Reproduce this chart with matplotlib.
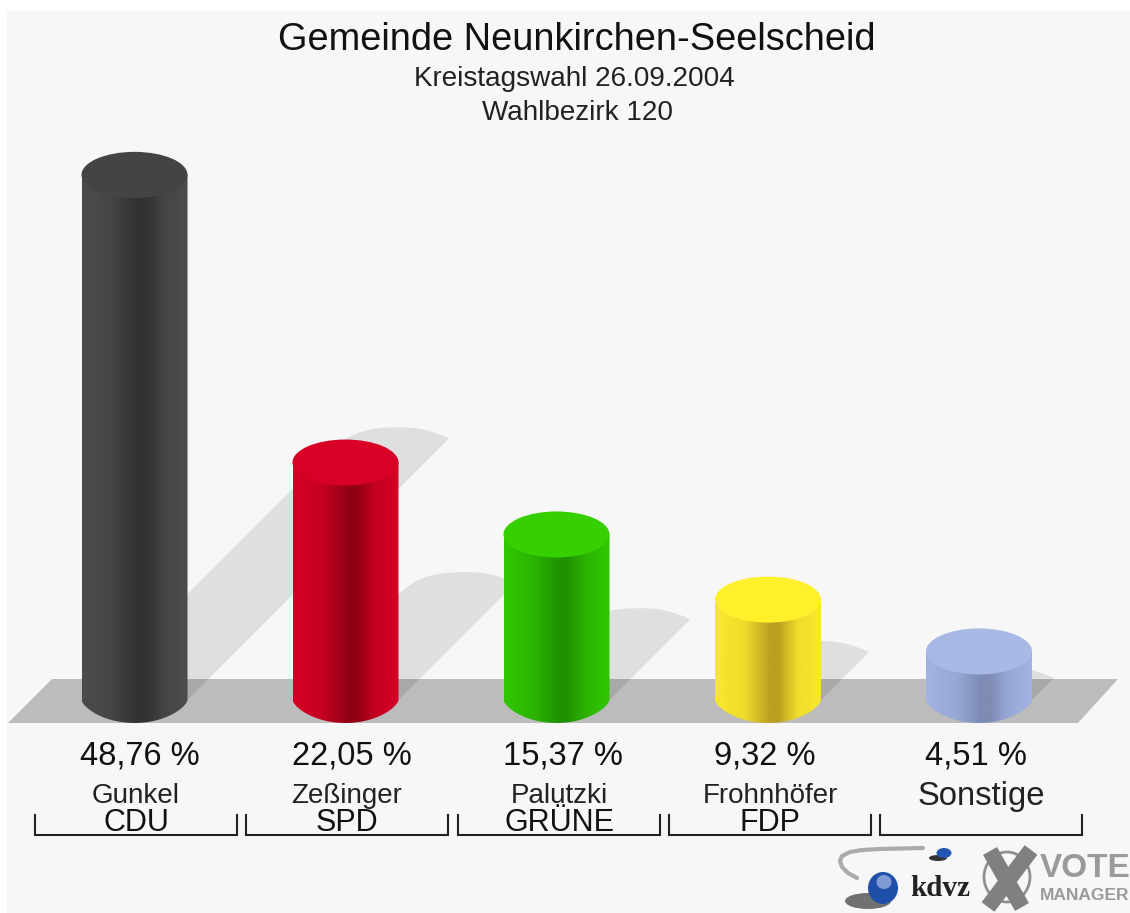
import numpy as np
import matplotlib
matplotlib.use("Agg")
import matplotlib.pyplot as plt
from matplotlib.patches import Ellipse, PathPatch, Polygon, Rectangle
from matplotlib.path import Path
from matplotlib.colors import LinearSegmentedColormap

plt.rcParams['font.family'] = ['Liberation Sans', 'DejaVu Sans']

# ---- data
parties = ["CDU", "SPD", "GRÜNE", "FDP", ""]
candidates = ["Gunkel", "Zeßinger", "Palutzki", "Frohnhöfer", "Sonstige"]
values = [48.76, 22.05, 15.37, 9.32, 4.51]
value_labels = ["48,76 %", "22,05 %", "15,37 %", "9,32 %", "4,51 %"]
title = "Gemeinde Neunkirchen-Seelscheid"
subtitle1 = "Kreistagswahl 26.09.2004"
subtitle2 = "Wahlbezirk 120"

# ---- style
top_colors = ["#444444", "#d80026", "#36d000", "#fff02c", "#a9b9e6"]
edge_colors = ["#4c4c4c", "#d40026", "#30c800", "#f8e82c", "#a2b2e2"]
mid_colors = ["#454545", "#c60020", "#2cb400", "#eedd2c", "#98a8d6"]
dark_colors = ["#323232", "#900014", "#1f9200", "#bb9f20", "#7e8cb4"]
BG = "#f7f7f7"
W, H = 1130, 913
BASE_PX = 700.0
PX_PER_PCT = 10.77
CENTERS = [134.5, 345.5, 556.5, 768, 979]
VALUE_X = [140, 352, 563, 765, 976]
RX, RY_PX = 53, 23
SHADOW_RATIO = 0.503
SHADOW_OFFSET_PX = 2.5
SHADOW_CAP_PX = 11
FLOOR_TOP, FLOOR_BOT = 679, 723

fig = plt.figure(figsize=(W / 100, H / 100), dpi=100, facecolor="white")
ax = fig.add_axes([0, 0, 1, 1])
ylo = (BASE_PX - H) / PX_PER_PCT
yhi = BASE_PX / PX_PER_PCT
ax.set_xlim(0, W)
ax.set_ylim(ylo, yhi)
ax.axis("off")


def Y(px):
    return (BASE_PX - px) / PX_PER_PCT


RY = RY_PX / PX_PER_PCT

ax.add_patch(Rectangle((7, Y(H)), W - 7, Y(11) - Y(H), fc=BG, ec="none", zorder=0))
floor_xy = [(8, Y(FLOOR_BOT)), (1078, Y(FLOOR_BOT)), (1118, Y(FLOOR_TOP)), (52, Y(FLOOR_TOP))]
ax.add_patch(Polygon(floor_xy, closed=True, fc="#bcbcbc", ec="none", zorder=1))


def shadow_path(cx, v):
    rise = v * SHADOW_RATIO - SHADOW_OFFSET_PX / PX_PER_PCT
    top_cx = cx + rise * PX_PER_PCT          # 45 degree shear on screen
    u = 1 / PX_PER_PCT                       # one pixel in value units
    cap = SHADOW_CAP_PX * u
    top = rise + cap
    verts = [(cx - RX, 0.0),
             (top_cx - RX - 14, rise - 14 * u),
             (top_cx - RX + 8, rise + 8 * u), (top_cx - 25, top), (top_cx + 5, top),
             (top_cx + 30, top), (top_cx + RX - 10, rise + 4 * u), (top_cx + RX, rise),
             (cx + RX, 0.0), (cx - RX, 0.0)]
    codes = [Path.MOVETO, Path.LINETO, Path.CURVE4, Path.CURVE4, Path.CURVE4,
             Path.CURVE4, Path.CURVE4, Path.CURVE4, Path.LINETO, Path.CLOSEPOLY]
    return Path(verts, codes)


for cx, v in zip(CENTERS, values):
    p = shadow_path(cx, v)
    ax.add_patch(PathPatch(p, fc="#dfdfdf", ec="none", zorder=0.5))
    floor_clip = Polygon(floor_xy, closed=True, transform=ax.transData)
    fl = PathPatch(p, fc="#a9a9a9", ec="none", zorder=1.5)
    ax.add_patch(fl)
    fl.set_clip_path(floor_clip)

# cylinders
for i, (cx, v) in enumerate(zip(CENTERS, values)):
    cmap = LinearSegmentedColormap.from_list(
        "c%d" % i,
        [(0, edge_colors[i]), (0.28, mid_colors[i]), (0.52, dark_colors[i]),
         (0.6, dark_colors[i]), (0.78, mid_colors[i]), (1, edge_colors[i])])
    theta = np.linspace(np.pi, 2 * np.pi, 80)
    bx = cx + RX * np.cos(theta)
    by = -RY * np.abs(np.sin(theta)) ** 1.35
    verts = [(cx - RX, v)] + list(zip(bx, by)) + [(cx + RX, v), (cx - RX, v)]
    codes = [Path.MOVETO] + [Path.LINETO] * (len(verts) - 2) + [Path.CLOSEPOLY]
    body = PathPatch(Path(verts, codes), fc="none", ec="none", zorder=2)
    ax.add_patch(body)
    im = ax.imshow(np.linspace(0, 1, 256)[None, :], cmap=cmap, aspect="auto", zorder=2,
                   extent=(cx - RX, cx + RX, -RY, v), interpolation="bilinear")
    im.set_clip_path(body)
    ax.add_patch(Ellipse((cx, v), 2 * RX, 2 * RY, fc=top_colors[i], ec="none", zorder=3))
ax.set_xlim(0, W)
ax.set_ylim(ylo, yhi)

# titles
ax.text(577, Y(39.5), title, fontsize=27.4, color="#111111", ha="center", va="center", zorder=5)
ax.text(574.5, Y(79), subtitle1, fontsize=20.1, color="#222222", ha="center", va="center", zorder=5)
ax.text(577.5, Y(112.5), subtitle2, fontsize=20.1, color="#222222", ha="center", va="center", zorder=5)

# labels and brackets
BR_L = [35, 246, 458, 669, 880]
BR_R = [237, 448, 660, 871, 1082]
for i in range(5):
    mid = (BR_L[i] + BR_R[i]) / 2
    ax.text(VALUE_X[i], Y(756), value_labels[i], fontsize=23.5, color="#111111", ha="center", va="center", zorder=5)
    ax.text(mid, Y(796), candidates[i], fontsize=20 if i < 4 else 23.6, color="#222222", ha="center", va="center", zorder=5)
    ax.text(mid, Y(823), parties[i], fontsize=22, color="#111111", ha="center", va="center", zorder=5)
    ax.plot([BR_L[i], BR_L[i], BR_R[i], BR_R[i]], [Y(815), Y(835), Y(835), Y(815)],
            color="#222222", lw=1.5, solid_joinstyle="miter", zorder=5)

# logo
sw_x = np.array([923, 900, 880, 862, 850, 842, 840, 842, 848, 857])
sw_y = np.array([848, 848.5, 849, 850, 852, 856, 861, 867, 873, 878])
ax.plot(sw_x, Y(sw_y), color="#ababab", lw=3, solid_capstyle="round", zorder=4)
ax.add_patch(Ellipse((868, Y(901)), 46, 16 / PX_PER_PCT, fc="#444444", ec="none", zorder=4, alpha=.75))
ax.add_patch(Ellipse((883, Y(888)), 30, 32 / PX_PER_PCT, fc="#1f4fa8", ec="none", zorder=4.2))
ax.add_patch(Ellipse((884, Y(882)), 15, 14 / PX_PER_PCT, fc="#7f9bd6", ec="none", zorder=4.3))
ax.add_patch(Ellipse((938, Y(858)), 18, 6 / PX_PER_PCT, fc="#333333", ec="none", zorder=4))
ax.add_patch(Ellipse((944, Y(853)), 15, 10 / PX_PER_PCT, fc="#2456b0", ec="none", zorder=4.2))
ax.text(940, Y(888), "kdvz", fontsize=21, family="Liberation Serif", weight="bold", color="#222222",
        ha="center", va="center", zorder=5)
for (x0, y0, x1, y1) in [(990, 851, 1022, 907), (1031, 850, 988, 907)]:
    ax.plot([x0, x1], [Y(y0), Y(y1)], color="#808080", lw=11.5, solid_capstyle="butt", zorder=4.5)
ax.add_patch(Ellipse((1007, Y(877)), 46, 50 / PX_PER_PCT, fc="none", ec="#909090", lw=2, zorder=4.4))
ax.text(1040, Y(868), "VOTE", fontsize=24, weight="bold", color="#9a9a9a", ha="left", va="center", zorder=5)
ax.text(1040, Y(895), "MANAGER", fontsize=12.5, weight="bold", color="#9a9a9a", ha="left", va="center", zorder=5)

fig.savefig("out.png", dpi=100, facecolor="white")
